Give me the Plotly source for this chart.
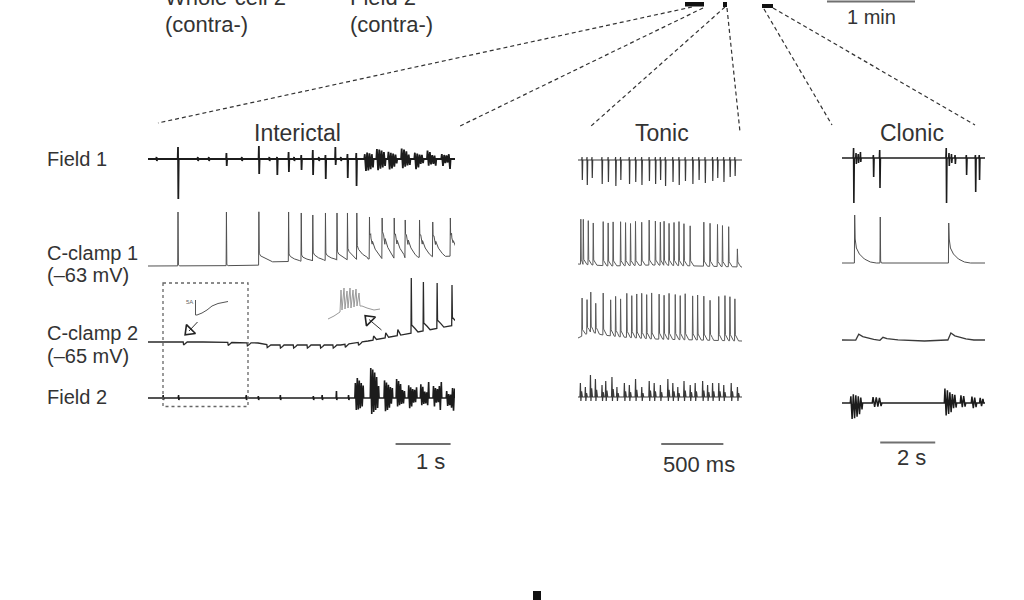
import numpy as np
import plotly.graph_objects as go

# ====================== DATA ======================
# Panel time spans (s) and their pixel placement on the page
INT_SPAN, TON_SPAN, CLO_SPAN = 5.58, 1.32, 5.2
INT_DOM, TON_DOM, CLO_DOM = (148, 455), (578, 742), (842, 985)

# ---- Interictal ----
F1I_BASE_T, F1I_BASE_Y = [0, 5.58], [159, 159]
F1I_SP_T = [0.54, 1.42, 2.01, 2.34, 2.55, 2.78, 2.99, 3.22, 3.40, 3.62, 3.78]
F1I_SP_UP = [12, 6, 13, 2, 7, 4, 9, 4, 12, 5, 6]
F1I_SP_DN = [40, 7, 15, 16, 13, 11, 16, 20, 6, 19, 27]
F1I_SMALL_T = [0.15, 0.9, 1.1, 1.7, 2.2, 2.65, 3.1, 3.5]
F1I_BU_T = [3.93, 4.15, 4.36, 4.60, 4.84, 5.07, 5.33]
F1I_BU_UP = [8, 10, 9, 11, 9, 10, 8]
F1I_BU_DN = [12, 14, 11, 13, 12, 11, 10]

C1I_BASE_T = [0, 2.0, 2.1, 3.0, 4.0, 5.58]
C1I_BASE_Y = [266, 265.5, 262, 261, 259, 256]
C1I_SP_T = [0.54, 1.42, 2.01, 2.55, 2.78, 2.99, 3.22, 3.43, 3.62, 3.79, 4.02,
            4.25, 4.47, 4.67, 4.93, 5.17, 5.49]
C1I_SP_PEAK = [212, 212, 212, 212, 213, 215, 213, 213, 213, 213, 217, 218, 218,
               220, 220, 222, 218]
C1I_SP_PLAT = [0, 0, 8, 5, 4, 6, 5, 6, 8, 10, 16, 18, 16, 16, 15, 14, 14]

C2I_BASE_T = [0, 1.0, 2.0, 2.2, 3.5, 4.0, 4.5, 5.0, 5.58]
C2I_BASE_Y = [342, 342, 343, 345, 345, 341, 336, 331, 325]
C2I_NOTCH_T = [0.64, 1.45, 1.80, 2.16, 2.40, 2.64, 2.89, 3.13, 3.36, 3.58, 3.82]
C2I_PSP_T, C2I_PSP_H = [4.09, 4.31, 4.53], [4, 5, 6]
C2I_SP_T = [4.78, 5.00, 5.25, 5.52]
C2I_SP_PEAK = [278, 282, 283, 285]

F2I_BASE_T, F2I_BASE_Y = [0, 5.58], [398, 398]
F2I_TICK_T = [0.27, 0.55, 1.78, 2.00, 2.40, 3.00, 3.16, 3.42, 3.64]
F2I_TICK_UP = [3, 3, 3, 2, 3, 2, 3, 7, 3]
F2I_BU_T = [3.76, 4.04, 4.29, 4.51, 4.73, 4.95, 5.18, 5.42]
F2I_BU_UP = [25, 30, 22, 20, 18, 16, 20, 10]
F2I_BU_DN = [12, 20, 14, 12, 12, 12, 12, 16]

# ---- Tonic ----
F1T_BASE_T, F1T_BASE_Y = [0, 1.32], [160, 160]
F1T_SP_T = [0.03, 0.07, 0.11, 0.19, 0.24, 0.30, 0.34, 0.41, 0.46, 0.51, 0.57, 0.62,
            0.66, 0.70, 0.76, 0.81, 0.86, 0.92, 0.97, 1.02, 1.08, 1.12, 1.17, 1.22, 1.26]
F1T_SP_DN = [20, 25, 18, 24, 22, 26, 20, 24, 22, 25, 21, 24, 20, 26, 22, 25, 21, 24,
             20, 23, 21, 18, 22, 17, 16]

C1T_BASE_T, C1T_BASE_Y = [0, 0.25, 0.6, 1.32], [264, 266, 265, 267]
C1T_SP_T = [0.02, 0.04, 0.08, 0.12, 0.20, 0.24, 0.28, 0.34, 0.38, 0.42, 0.46, 0.51,
            0.57, 0.62, 0.66, 0.69, 0.73, 0.77, 0.81, 0.85, 0.90, 1.01, 1.06, 1.12,
            1.16, 1.21, 1.28]
C1T_SP_AMP = [45, 45, 44, 42, 44, 43, 44, 44, 43, 42, 44, 43, 45, 44, 43, 44, 42, 43,
              44, 42, 40, 44, 43, 42, 41, 40, 18]

C2T_BASE_T = [0, 0.1, 0.2, 0.35, 0.6, 1.32]
C2T_BASE_Y = [338, 332, 335, 337, 339, 341]
C2T_SP_T = [0.03, 0.07, 0.10, 0.14, 0.20, 0.26, 0.30, 0.34, 0.39, 0.43, 0.47, 0.51,
            0.55, 0.59, 0.65, 0.69, 0.73, 0.78, 0.82, 0.86, 0.92, 0.96, 1.01, 1.06,
            1.13, 1.18, 1.22, 1.26]
C2T_SP_AMP = [38, 34, 40, 30, 42, 36, 40, 38, 44, 42, 44, 45, 44, 46, 45, 44, 46, 45,
              44, 46, 44, 45, 44, 40, 44, 45, 44, 42]

F2T_BASE_T, F2T_BASE_Y = [0, 1.32], [397, 397]
F2T_EV_T = [0.016, 0.056, 0.097, 0.137, 0.19, 0.22, 0.27, 0.31, 0.37, 0.41, 0.46,
            0.51, 0.57, 0.61, 0.66, 0.72, 0.76, 0.80, 0.85, 0.90, 0.94, 1.00, 1.04,
            1.08, 1.13, 1.17, 1.23, 1.28]
F2T_EV_UP = [14, 10, 22, 18, 12, 16, 20, 10, 14, 12, 18, 10, 16, 14, 12, 18, 14, 10,
             16, 12, 14, 16, 12, 14, 14, 12, 14, 10]

# ---- Clonic ----
F1C_BASE_T, F1C_BASE_Y = [0, 5.2], [158, 158]
F1C_SP_T = [0.41, 0.50, 0.58, 0.66, 1.13, 1.36, 3.78, 3.88, 3.97, 4.10, 4.51, 4.84, 4.98]
F1C_SP_UP = [10, 5, 4, 6, 3, 8, 10, 5, 4, 3, 3, 3, 3]
F1C_SP_DN = [45, 6, 5, 4, 19, 30, 45, 8, 5, 6, 17, 34, 22]

C1C_BASE_T, C1C_BASE_Y = [0, 5.2], [263, 263]
C1C_SP_T = [0.45, 1.38, 3.87]
C1C_SP_AMP = [48, 46, 40]
C1C_SP_DECAY = [True, False, True]

C2C_BASE_T = [0, 2.5, 3.0, 3.8, 5.2]
C2C_BASE_Y = [340, 340.5, 341, 340, 340]
C2C_BUMP_T, C2C_BUMP_H = [0.50, 1.38, 3.85], [6, 3, 7]

F2C_BASE_T, F2C_BASE_Y = [0, 5.2], [403, 403]
F2C_BU_T = [0.30, 1.10, 3.72, 4.30, 4.70, 5.00]
F2C_BU_DUR = [0.45, 0.35, 0.45, 0.20, 0.20, 0.15]
F2C_BU_UP = [11, 6, 18, 8, 9, 6]
F2C_BU_DN = [16, 5, 13, 6, 6, 5]
F2C_BU_N = [10, 6, 10, 4, 4, 3]

BURST_ENV = [0.6, 1.0, 0.8, 0.95, 0.7, 0.85, 0.6, 0.7, 0.5, 0.4, 0.45, 0.35]

# Insets (page pixel coordinates)
INSET1_X = [195.5, 195.5, 197, 202, 207, 212, 218, 228]
INSET1_Y = [300, 315, 315, 313, 310, 306, 303.5, 301.5]
INSET2_X = [328, 334, 340, 341, 342, 344, 345, 347, 348, 350, 351, 353, 354, 356, 357,
            359, 360, 362, 367, 374, 380]
INSET2_Y = [319, 316, 312, 290, 310, 288, 309, 291, 308, 288, 308, 290, 307, 289, 306,
            293, 306, 306, 308, 310, 309]

# Row labels
ROW_LABELS = [("Field 1", 159), ("C-clamp 1", 253), ("(\u201363 mV)", 275),
              ("C-clamp 2", 333), ("(\u201365 mV)", 356), ("Field 2", 397)]
PANEL_TITLES = [("Interictal", 297), ("Tonic", 662), ("Clonic", 912)]

# ====================== RENDERING HELPERS ======================

def render(base_t, base_y, events):
    events = sorted(events, key=lambda e: e[0])
    pts, windows = [], []
    for i, (t0, shape) in enumerate(events):
        t_next = events[i + 1][0] if i + 1 < len(events) else float("inf")
        last = t0
        for dt, up in shape:
            t = t0 + dt
            if dt > 0 and t >= t_next:
                break
            b = float(np.interp(t, base_t, base_y))
            pts.append((t, b - up))
            last = t
        windows.append((t0, last))
    for t, y in zip(base_t, base_y):
        if not any(a <= t <= b for a, b in windows):
            pts.append((t, y))
    pts.sort(key=lambda p: p[0])
    return [p[0] for p in pts], [p[1] for p in pts]


def px(shape, pxps):
    return [(d / pxps, u) for d, u in shape]


def field_spike(up, dn, pxps):
    return px([(0, 0), (0.3, up), (0.6, -dn), (1.0, 0)], pxps)


def burst(dur, up, dn, n, k0=0):
    sh = [(0, 0)]
    for k in range(n):
        e = BURST_ENV[(k + k0) % len(BURST_ENV)]
        sh.append(((k + 0.5) * dur / n, up * e if k % 2 == 0 else -dn * e))
    sh.append((dur, 0))
    return sh


PX_INT = (INT_DOM[1] - INT_DOM[0]) / INT_SPAN
PX_TON = (TON_DOM[1] - TON_DOM[0]) / TON_SPAN
PX_CLO = (CLO_DOM[1] - CLO_DOM[0]) / CLO_SPAN

FIELD_C = "#1c1c1c"
CELL_C = "#505050"
TEXT_C = "#333333"
BAR_C = "#707070"

fig = go.Figure()


def add(x, y, axis, color, width):
    fig.add_trace(go.Scatter(x=x, y=y, xaxis=axis, yaxis="y", mode="lines",
                             line=dict(color=color, width=width),
                             hoverinfo="skip", showlegend=False))

# ---- Interictal traces ----
ev = [(t, field_spike(u, d, PX_INT)) for t, u, d in zip(F1I_SP_T, F1I_SP_UP, F1I_SP_DN)]
ev += [(t, field_spike(2, 2, PX_INT)) for t in F1I_SMALL_T]
ev += [(t, burst(0.17, u, d, 8, i)) for i, (t, u, d) in enumerate(zip(F1I_BU_T, F1I_BU_UP, F1I_BU_DN))]
add(*render(F1I_BASE_T, F1I_BASE_Y, ev), "x", FIELD_C, 1.8)

ev = []
for t, pk, pl in zip(C1I_SP_T, C1I_SP_PEAK, C1I_SP_PLAT):
    b = float(np.interp(t, C1I_BASE_T, C1I_BASE_Y))
    amp = b - pk
    if pl > 10:
        sh = [(0, 0), (0.3, amp), (0.6, pl * 1.5), (1.5, amp * 0.6), (1.8, pl * 1.3),
              (3, amp * 0.35), (3.3, pl * 1.1), (6, pl * 0.6), (10, pl * 0.2), (13, 0)]
    else:
        sh = [(0, 0), (0.3, amp), (0.7, pl * 1.3 + 1), (2, pl), (6, pl * 0.5),
              (11, pl * 0.15), (14, 0)]
    ev.append((t, px(sh, PX_INT)))
add(*render(C1I_BASE_T, C1I_BASE_Y, ev), "x", CELL_C, 1.0)

ev = [(t, px([(0, 0), (0.4, -3), (2.5, -1.5), (4, 0)], PX_INT)) for t in C2I_NOTCH_T]
ev += [(t, px([(0, 0), (0.6, h), (3.5, 0)], PX_INT)) for t, h in zip(C2I_PSP_T, C2I_PSP_H)]
for t, pk in zip(C2I_SP_T, C2I_SP_PEAK):
    b = float(np.interp(t, C2I_BASE_T, C2I_BASE_Y))
    ev.append((t, px([(0, 0), (0.3, b - pk), (0.7, 8), (4, 4), (7, 0)], PX_INT)))
add(*render(C2I_BASE_T, C2I_BASE_Y, ev), "x", "#2a2a2a", 1.3)

ev = [(t, field_spike(u, 2, PX_INT)) for t, u in zip(F2I_TICK_T, F2I_TICK_UP)]
ev += [(t, burst(0.16, u, d, 9, i)) for i, (t, u, d) in enumerate(zip(F2I_BU_T, F2I_BU_UP, F2I_BU_DN))]
add(*render(F2I_BASE_T, F2I_BASE_Y, ev), "x", FIELD_C, 1.6)

# ---- Tonic traces ----
ev = [(t, field_spike(3, d, PX_TON)) for t, d in zip(F1T_SP_T, F1T_SP_DN)]
add(*render(F1T_BASE_T, F1T_BASE_Y, ev), "x2", "#3a3a3a", 1.2)

ev = [(t, px([(0, 0), (0.35, a), (0.8, 5), (2.5, 2), (4, 0)], PX_TON)) for t, a in zip(C1T_SP_T, C1T_SP_AMP)]
add(*render(C1T_BASE_T, C1T_BASE_Y, ev), "x2", "#5a5a5a", 1.0)

ev = [(t, px([(0, 0), (0.35, a), (0.8, 6), (2.5, 3), (4, 0)], PX_TON)) for t, a in zip(C2T_SP_T, C2T_SP_AMP)]
add(*render(C2T_BASE_T, C2T_BASE_Y, ev), "x2", "#5a5a5a", 1.0)

ev = [(t, px([(0, 0), (0.4, u), (0.9, -4), (1.6, u * 0.4), (2.4, 0)], PX_TON)) for t, u in zip(F2T_EV_T, F2T_EV_UP)]
add(*render(F2T_BASE_T, F2T_BASE_Y, ev), "x2", "#3a3a3a", 1.2)

# ---- Clonic traces ----
ev = [(t, field_spike(u, d, PX_CLO)) for t, u, d in zip(F1C_SP_T, F1C_SP_UP, F1C_SP_DN)]
add(*render(F1C_BASE_T, F1C_BASE_Y, ev), "x3", FIELD_C, 1.6)

ev = []
for t, a, dec in zip(C1C_SP_T, C1C_SP_AMP, C1C_SP_DECAY):
    if dec:
        sh = [(0, 0), (0.3, a), (0.8, 24), (2, 15), (5, 9), (10, 4), (16, 1), (22, 0)]
    else:
        sh = [(0, 0), (0.3, a), (0.7, 2), (1.5, 0)]
    ev.append((t, px(sh, PX_CLO)))
add(*render(C1C_BASE_T, C1C_BASE_Y, ev), "x3", CELL_C, 1.0)

ev = [(t, px([(0, 0), (3, h), (7, h * 0.6), (18, h * 0.15), (26, 0)], PX_CLO)) for t, h in zip(C2C_BUMP_T, C2C_BUMP_H)]
add(*render(C2C_BASE_T, C2C_BASE_Y, ev), "x3", "#3a3a3a", 1.3)

ev = [(t, burst(d, u, dn, n, i)) for i, (t, d, u, dn, n) in
      enumerate(zip(F2C_BU_T, F2C_BU_DUR, F2C_BU_UP, F2C_BU_DN, F2C_BU_N))]
add(*render(F2C_BASE_T, F2C_BASE_Y, ev), "x3", FIELD_C, 1.5)

# ---- Insets (page coords, axis x4) ----
add(INSET1_X, INSET1_Y, "x4", "#555555", 1.0)
add(INSET2_X, INSET2_Y, "x4", "#9a9a9a", 1.0)
add([197.5, 189], [322, 331], "x4", "#333333", 1.0)
add([381.5, 369], [330, 319.5], "x4", "#333333", 1.0)
fig.add_trace(go.Scatter(x=[189, 369], y=[331, 319.5], xaxis="x4", yaxis="y", mode="markers",
                         marker=dict(symbol="triangle-up-open", size=11, angle=[225, 315],
                                     color="#222222", line=dict(width=1.6)),
                         hoverinfo="skip", showlegend=False))

# ---- Scale bars (drawn in each panel's time units) ----
add([4.5, 5.5], [444, 444], "x", BAR_C, 2)
add([0.67, 1.17], [444, 444], "x2", BAR_C, 2)
add([1.39, 3.39], [442.5, 442.5], "x3", BAR_C, 2)

shapes = []
# Overview window marks + "1 min" bar
for x0, x1, y0, y1 in [(685, 704, 2, 6.5), (723, 727, 2, 7), (762, 773, 4, 8)]:
    shapes.append(dict(type="rect", xref="x4", yref="y", x0=x0, x1=x1, y0=y0, y1=y1,
                       fillcolor="#111111", line=dict(width=0)))
shapes.append(dict(type="line", xref="x4", yref="y", x0=827, x1=915, y0=1.5, y1=1.5,
                   line=dict(color=BAR_C, width=2)))
# Zoom connector lines
for x0, y0, x1, y1 in [(692, 7, 158, 123), (703, 8, 458, 127), (725, 7, 590, 127),
                       (727, 8, 740, 132), (764, 9, 832, 125), (773, 8, 975, 125)]:
    shapes.append(dict(type="line", xref="x4", yref="y", x0=x0, y0=y0, x1=x1, y1=y1,
                       line=dict(color="#333333", width=1.2, dash="4px,3px")))
# Dotted box
shapes.append(dict(type="rect", xref="x4", yref="y", x0=163, x1=248, y0=283, y1=406.5,
                   line=dict(color="#666666", width=1.3, dash="3px,3px")))
# bottom mark
shapes.append(dict(type="rect", xref="x4", yref="y", x0=533, x1=541, y0=591, y1=601,
                   fillcolor="#111111", line=dict(width=0)))

FONT = "Liberation Sans, Arial, sans-serif"
ann = []
def text(x, y, s, size, xanchor="left", color=TEXT_C):
    ann.append(dict(x=x / 1024, y=1 - y / 600, xref="paper", yref="paper", text=s,
                    showarrow=False, xanchor=xanchor, yanchor="middle",
                    font=dict(family=FONT, size=size, color=color)))

for s, y in ROW_LABELS:
    text(45, y, s, 20)
for s, x in PANEL_TITLES:
    text(x, 133, s, 23, "center")
text(163, 25, "(contra-)", 22)
text(163, -3, "Whole-cell 2", 22)
text(348, 25, "(contra-)", 22)
text(348, -3, "Field 2", 22)
text(871, 17, "1 min", 20, "center")
text(430, 461, "1 s", 22, "center")
text(699, 464, "500 ms", 22, "center")
text(911, 457, "2 s", 22, "center")
text(189, 302, "5A", 6, "center", "#666666")

def xa(dom, rng):
    return dict(domain=[dom[0] / 1024, dom[1] / 1024], range=rng, visible=False,
                anchor="y", fixedrange=True)

fig.update_layout(
    width=1024, height=600, margin=dict(l=0, r=0, t=0, b=0),
    paper_bgcolor="white", plot_bgcolor="rgba(0,0,0,0)",
    xaxis=xa(INT_DOM, [0, INT_SPAN]),
    xaxis2=xa(TON_DOM, [0, TON_SPAN]),
    xaxis3=xa(CLO_DOM, [0, CLO_SPAN]),
    xaxis4=xa((0, 1024), [0, 1024]),
    yaxis=dict(domain=[0, 1], range=[600, 0], visible=False, fixedrange=True),
    shapes=shapes, annotations=ann,
)
fig.write_html("out.html", config={"displayModeBar": False},
               post_script="document.body.style.margin='0';")
